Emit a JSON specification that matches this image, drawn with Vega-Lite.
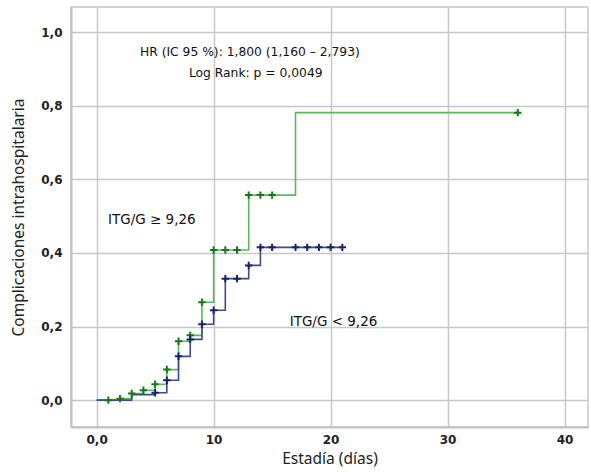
{
  "$schema": "https://vega.github.io/schema/vega-lite/v6.json",
  "width": 517,
  "height": 420,
  "autosize": {"type": "none"},
  "padding": {"left": 71, "top": 7, "right": 3, "bottom": 45},
  "background": "white",
  "config": {
    "view": {"stroke": "#c8c8c8", "strokeWidth": 1.5},
    "axis": {
      "gridColor": "#c8c8c8", "gridWidth": 1.5, "domainColor": "#c0c0c0", "domainWidth": 2,
      "ticks": false, "labelFont": "DejaVu Sans", "labelFontSize": 12, "labelFontWeight": "bold",
      "labelColor": "#222222", "titleFont": "Noto Sans", "titleFontSize": 15.5, "titleFontWeight": "normal",
      "titleColor": "#222222"
    }
  },
  "datasets": {
    "curvas": [
      {"grupo": "alto", "dia": 0, "prob": 0, "censura": false},
      {"grupo": "alto", "dia": 1, "prob": 0, "censura": true},
      {"grupo": "alto", "dia": 2, "prob": 0.004, "censura": true},
      {"grupo": "alto", "dia": 3, "prob": 0.018, "censura": true},
      {"grupo": "alto", "dia": 4, "prob": 0.027, "censura": true},
      {"grupo": "alto", "dia": 5, "prob": 0.043, "censura": true},
      {"grupo": "alto", "dia": 6, "prob": 0.083, "censura": true},
      {"grupo": "alto", "dia": 7, "prob": 0.16, "censura": true},
      {"grupo": "alto", "dia": 8, "prob": 0.176, "censura": true},
      {"grupo": "alto", "dia": 9, "prob": 0.266, "censura": true},
      {"grupo": "alto", "dia": 10, "prob": 0.408, "censura": true},
      {"grupo": "alto", "dia": 11, "prob": 0.408, "censura": true},
      {"grupo": "alto", "dia": 12, "prob": 0.408, "censura": true},
      {"grupo": "alto", "dia": 13, "prob": 0.557, "censura": true},
      {"grupo": "alto", "dia": 14, "prob": 0.557, "censura": true},
      {"grupo": "alto", "dia": 15, "prob": 0.557, "censura": true},
      {"grupo": "alto", "dia": 17, "prob": 0.781, "censura": false},
      {"grupo": "alto", "dia": 36, "prob": 0.781, "censura": true},
      {"grupo": "bajo", "dia": 0, "prob": 0, "censura": false},
      {"grupo": "bajo", "dia": 3, "prob": 0.015, "censura": false},
      {"grupo": "bajo", "dia": 5, "prob": 0.02, "censura": true},
      {"grupo": "bajo", "dia": 6, "prob": 0.054, "censura": true},
      {"grupo": "bajo", "dia": 7, "prob": 0.119, "censura": true},
      {"grupo": "bajo", "dia": 8, "prob": 0.165, "censura": true},
      {"grupo": "bajo", "dia": 9, "prob": 0.206, "censura": true},
      {"grupo": "bajo", "dia": 10, "prob": 0.244, "censura": true},
      {"grupo": "bajo", "dia": 11, "prob": 0.33, "censura": true},
      {"grupo": "bajo", "dia": 12, "prob": 0.33, "censura": true},
      {"grupo": "bajo", "dia": 13, "prob": 0.366, "censura": true},
      {"grupo": "bajo", "dia": 14, "prob": 0.415, "censura": true},
      {"grupo": "bajo", "dia": 15, "prob": 0.415, "censura": true},
      {"grupo": "bajo", "dia": 17, "prob": 0.415, "censura": true},
      {"grupo": "bajo", "dia": 18, "prob": 0.415, "censura": true},
      {"grupo": "bajo", "dia": 19, "prob": 0.415, "censura": true},
      {"grupo": "bajo", "dia": 20, "prob": 0.415, "censura": true},
      {"grupo": "bajo", "dia": 21, "prob": 0.415, "censura": true}
    ],
    "notas": [
      {"nota": "HR (IC 95 %): 1,800 (1,160 – 2,793)", "dia": 13.1, "prob": 0.946, "tipo": "centro"},
      {"nota": "Log Rank: p = 0,0049", "dia": 13.6, "prob": 0.889, "tipo": "centro"},
      {"nota": "ITG/G ≥ 9,26", "dia": 0.97, "prob": 0.489, "tipo": "izquierda"},
      {"nota": "ITG/G < 9,26", "dia": 16.5, "prob": 0.212, "tipo": "izquierda"}
    ]
  },
  "encoding": {
    "x": {
      "field": "dia", "type": "quantitative",
      "scale": {"domain": [-2.19, 42.0], "nice": false, "zero": false},
      "axis": {"title": "Estadía (días)", "values": [0, 10, 20, 30, 40],
        "labelExpr": "datum.value == 0 ? '0,0' : format(datum.value, 'd')",
        "labelPadding": 7, "titlePadding": 6, "grid": true}
    },
    "y": {
      "field": "prob", "type": "quantitative",
      "scale": {"domain": [-0.073, 1.068], "nice": false, "zero": false},
      "axis": {"title": "Complicaciones intrahospitalaria", "values": [0, 0.2, 0.4, 0.6, 0.8, 1.0],
        "labelExpr": "replace(format(datum.value, '.1f'), '.', ',')",
        "labelPadding": 9, "titlePadding": 14, "grid": true}
    }
  },
  "layer": [
    {
      "data": {"name": "curvas"},
      "mark": {"type": "line", "interpolate": "step-after", "strokeWidth": 1.6},
      "encoding": {
        "color": {"field": "grupo", "type": "nominal",
          "scale": {"domain": ["alto", "bajo"], "range": ["#5cb85c", "#3d4d8c"]}, "legend": null}
      }
    },
    {
      "data": {"name": "curvas"},
      "transform": [{"filter": "datum.censura"}],
      "mark": {"type": "point", "shape": "M0,-1V1M-1,0H1", "filled": false, "size": 55, "strokeWidth": 2, "opacity": 1},
      "encoding": {
        "stroke": {"field": "grupo", "type": "nominal",
          "scale": {"domain": ["alto", "bajo"], "range": ["#157a15", "#17236b"]}, "legend": null}
      }
    },
    {
      "data": {"name": "notas"},
      "transform": [{"filter": "datum.tipo == 'centro'"}],
      "mark": {"type": "text", "font": "DejaVu Sans", "fontSize": 12.3, "color": "#111111", "align": "center", "baseline": "middle"},
      "encoding": {"text": {"field": "nota", "type": "nominal"}}
    },
    {
      "data": {"name": "notas"},
      "transform": [{"filter": "datum.tipo == 'izquierda'"}],
      "mark": {"type": "text", "font": "DejaVu Sans", "fontSize": 13.5, "color": "#111111", "align": "left", "baseline": "middle"},
      "encoding": {"text": {"field": "nota", "type": "nominal"}}
    }
  ]
}
